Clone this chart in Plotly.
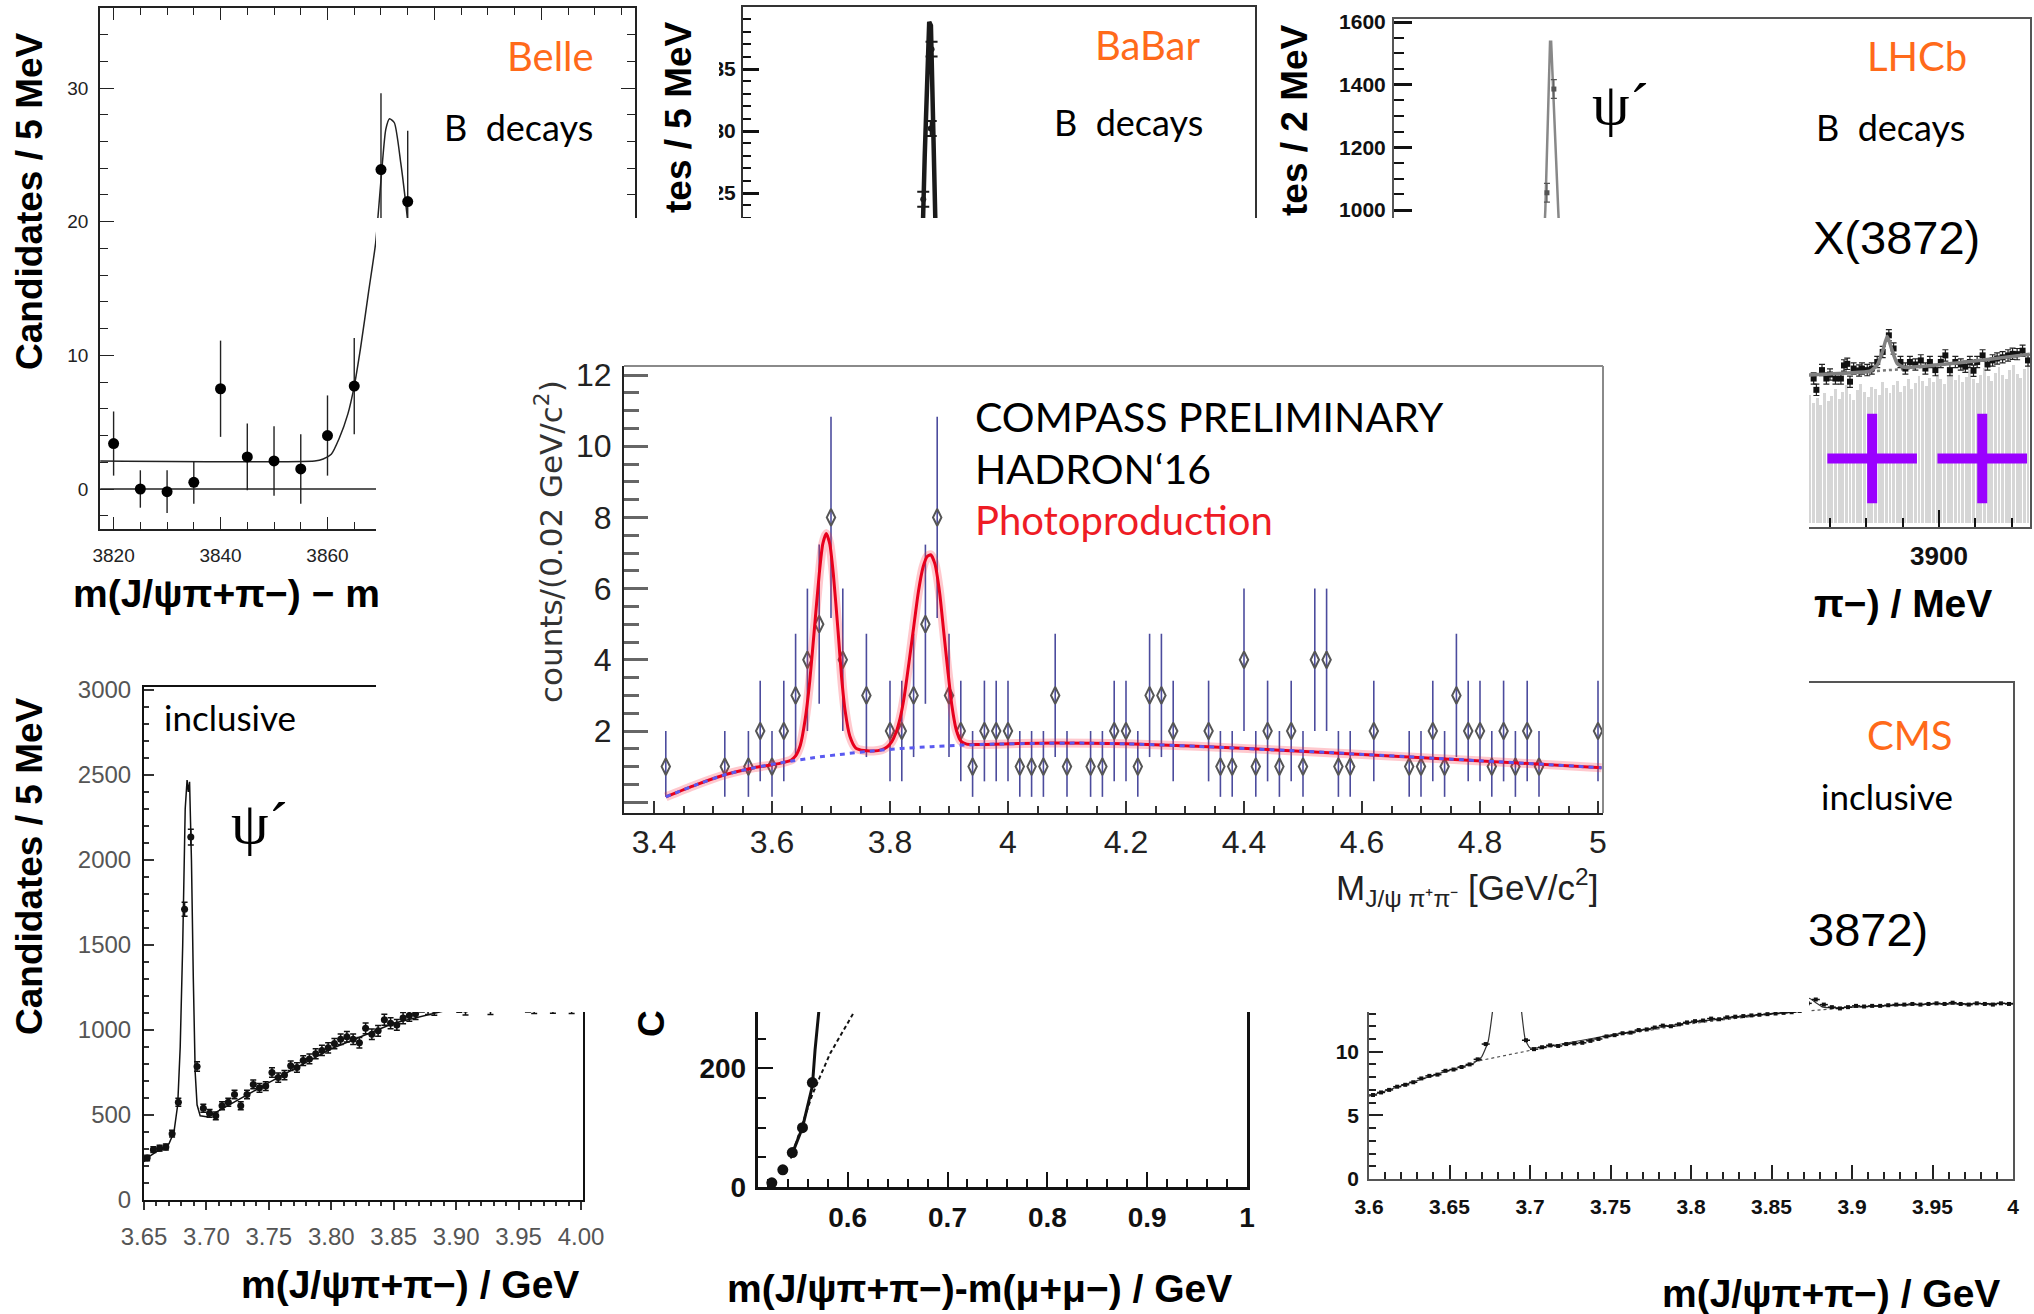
import numpy as np
import plotly.graph_objects as go

W, H = 2034, 1314

# ===================== DATA =====================
# --- COMPASS (centre) ---
compass_mass = [3.42, 3.52, 3.56, 3.58, 3.60, 3.62, 3.64, 3.66, 3.68, 3.70,
                3.72, 3.76, 3.80, 3.82, 3.84, 3.86, 3.88, 3.90, 3.92, 3.94,
                3.96, 3.98, 4.00, 4.02, 4.04, 4.06, 4.08, 4.10, 4.14, 4.16,
                4.18, 4.20, 4.22, 4.24, 4.26, 4.28, 4.34, 4.36, 4.38, 4.40,
                4.42, 4.44, 4.46, 4.48, 4.50, 4.52, 4.54, 4.56, 4.58, 4.62,
                4.68, 4.70, 4.72, 4.74, 4.76, 4.78, 4.80, 4.82, 4.84, 4.86,
                4.88, 4.90, 5.00]
compass_counts = [1, 1, 1, 2, 1, 2, 3, 4, 5, 8,
                  4, 3, 2, 2, 3, 5, 8, 3, 2, 1,
                  2, 2, 2, 1, 1, 1, 3, 1, 1, 1,
                  2, 2, 1, 3, 3, 2, 2, 1, 1, 4,
                  1, 2, 1, 2, 1, 4, 4, 1, 1, 2,
                  1, 1, 2, 1, 3, 2, 2, 1, 2, 1,
                  2, 1, 2]
compass_fit_mass = [3.42, 3.47, 3.52, 3.57, 3.60, 3.62, 3.632, 3.640, 3.648, 3.656,
                    3.664, 3.672, 3.680, 3.686, 3.692, 3.698, 3.704, 3.712, 3.718, 3.724,
                    3.732, 3.742, 3.756, 3.772, 3.785, 3.795, 3.803, 3.810, 3.817, 3.824,
                    3.832, 3.840, 3.848, 3.856, 3.863, 3.869, 3.876, 3.884, 3.891, 3.898,
                    3.905, 3.912, 3.920, 3.930, 3.945, 3.963, 4.02, 4.08, 4.20, 4.32,
                    4.487, 4.726, 5.006]
compass_fit_counts = [0.15, 0.48, 0.77, 0.97, 1.05, 1.12, 1.18, 1.30, 1.60, 2.30,
                      3.40, 4.90, 6.40, 7.25, 7.55, 7.25, 6.40, 4.80, 3.50, 2.56,
                      1.85, 1.52, 1.45, 1.44, 1.47, 1.55, 1.70, 1.95, 2.35, 2.95,
                      3.90, 4.90, 5.90, 6.60, 6.90, 6.95, 6.70, 5.90, 4.80, 3.70,
                      2.70, 2.05, 1.72, 1.63, 1.62, 1.62, 1.65, 1.66, 1.64, 1.57,
                      1.44, 1.23, 0.97]
compass_bkg_mass = [3.42, 3.47, 3.52, 3.57, 3.62, 3.67, 3.72, 3.77, 3.82, 3.87,
                    3.92, 3.97, 4.05, 4.12, 4.20, 4.32, 4.49, 4.73, 5.006]
compass_bkg_counts = [0.15, 0.48, 0.77, 0.97, 1.12, 1.25, 1.35, 1.44, 1.51, 1.56,
                      1.60, 1.63, 1.65, 1.66, 1.64, 1.57, 1.44, 1.23, 0.97]

# --- Belle (top left) ---
belle_mass = [3820, 3825, 3830, 3835, 3840, 3845, 3850, 3855, 3860, 3865, 3870, 3875]
belle_cand = [3.4, 0.0, -0.2, 0.5, 7.5, 2.4, 2.1, 1.5, 4.0, 7.7, 23.9, 21.5]
belle_err = [2.4, 1.4, 1.6, 1.6, 3.6, 2.5, 2.6, 2.6, 3.0, 3.6, 5.7, 5.3]
belle_fit_mass = [3817.5, 3857.6, 3859.2, 3860.7, 3862.2, 3863.8, 3865.0, 3866.2, 3867.7,
                  3869.0, 3870.0, 3870.9, 3871.6, 3872.5, 3873.7, 3874.9, 3876.5]
belle_fit_cand = [2.1, 2.1, 2.25, 2.6, 3.8, 5.6, 7.7, 10.6, 14.8,
                  18.4, 23.1, 26.9, 27.7, 27.4, 24.4, 20.4, 14.0]
belle_zero_mass = [3817.5, 3917.5]
belle_zero_cand = [0, 0]

# --- BaBar (top middle) ---
babar_fit_mass = [3.678, 3.6825, 3.6845, 3.6858, 3.6866, 3.6874, 3.6885, 3.6905, 3.695]
babar_fit_cand = [0, 15, 28, 36, 38.8, 38.5, 31, 15, 0]
babar_mass = [3.6838, 3.6873, 3.6877]
babar_cand = [24.5, 30.2, 36.6]

# --- LHCb (top right) ---
lhcb_psi_fit_mass = [3682.5, 3683.3, 3685.0, 3685.9, 3686.5, 3688.0, 3690.4, 3691.2]
lhcb_psi_fit_cand = [900, 1000, 1350, 1537, 1537, 1350, 1000, 900]
lhcb_psi_mass = [3684.2, 3688.0]
lhcb_psi_cand = [1055, 1386]
lhcb_x_mass = [3831, 3832.5, 3835.6, 3838, 3840, 3843, 3846, 3847.7, 3849.5, 3851,
               3853, 3856, 3857.6, 3860.5, 3863, 3866, 3869, 3872.4, 3875, 3878.8,
               3881.5, 3884, 3887, 3890, 3892.5, 3895, 3898, 3901, 3903.5, 3906,
               3909, 3912, 3914.5, 3917, 3919, 3921, 3924, 3926.7, 3929.5, 3932,
               3935, 3938, 3940.5, 3943, 3946, 3949]
lhcb_x_cand = [462, 426, 489, 462, 475, 462, 462, 504, 509, 452,
               494, 488, 494, 489, 494, 515, 547, 600, 558, 515,
               494, 515, 507, 520, 494, 515, 489, 515, 536, 489,
               515, 507, 500, 515, 487, 515, 536, 507, 520, 526,
               530, 536, 541, 540, 551, 520]
lhcb_x_fit_mass = [3823, 3850, 3862, 3866, 3869, 3871.5, 3874, 3877, 3881, 3900, 3930, 3950]
lhcb_x_fit_cand = [472, 480, 486, 505, 550, 597, 555, 510, 498, 506, 525, 540]
lhcb_x_bkg_mass = [3823, 3862, 3880, 3900, 3930, 3950]
lhcb_x_bkg_cand = [470, 485, 492, 505, 524, 538]
lhcb_bg_mass = [3823, 3825, 3827, 3829, 3831, 3833, 3835, 3837, 3839, 3841,
                3843, 3845, 3847, 3849, 3851, 3853, 3855, 3857, 3859, 3861,
                3863, 3865, 3867, 3869, 3871, 3873, 3875, 3877, 3879, 3881,
                3883, 3885, 3887, 3889, 3891, 3893, 3895, 3897, 3899, 3901,
                3903, 3905, 3907, 3909, 3911, 3913, 3915, 3917, 3919, 3921,
                3923, 3925, 3927, 3929, 3931, 3933, 3935, 3937, 3939, 3941,
                3943, 3945, 3947, 3949]
lhcb_bg_cand = [380, 395, 372, 410, 385, 400, 378, 415, 392, 405,
                430, 398, 420, 440, 412, 395, 425, 445, 418, 402,
                436, 428, 410, 450, 432, 415, 440, 455, 420, 438,
                462, 430, 448, 470, 455, 438, 465, 452, 478, 460,
                445, 470, 485, 458, 472, 450, 468, 490, 462, 448,
                475, 495, 470, 455, 480, 500, 472, 460, 488, 505,
                478, 465, 492, 520]
lhcb_cross_mass = [3863.2, 3923.8]
lhcb_cross_cand = [207, 207]

# --- inclusive psi' (bottom left) ---
incl_mass = [3.6525, 3.6575, 3.6625, 3.6675, 3.6725, 3.6775, 3.6825, 3.6875, 3.6925, 3.6975,
             3.7025, 3.7075, 3.7125, 3.7175, 3.7225, 3.7275, 3.7325, 3.7375, 3.7425, 3.7475,
             3.7525, 3.7575, 3.7625, 3.7675, 3.7725, 3.7775, 3.7825, 3.7875, 3.7925, 3.7975,
             3.8025, 3.8075, 3.8125, 3.8175, 3.8225, 3.8275, 3.8325, 3.8375, 3.8425, 3.8475,
             3.8525, 3.8575, 3.8625, 3.8675, 3.8725, 3.8775, 3.8825, 3.8875, 3.8925, 3.8975,
             3.9025, 3.9075, 3.9125, 3.9175, 3.9225, 3.9275, 3.9325, 3.9375, 3.9425, 3.9475,
             3.9525, 3.9575, 3.9625, 3.9675, 3.9725, 3.9775, 3.9825, 3.9875, 3.9925, 3.9975]
incl_cand = [247, 296, 305, 312, 390, 575, 1710, 2135, 785, 540,
             510, 495, 555, 575, 620, 555, 620, 680, 660, 670,
             750, 720, 735, 790, 780, 820, 830, 860, 880, 895,
             920, 945, 960, 945, 925, 1010, 975, 995, 1060, 1040,
             1030, 1070, 1085, 1095, 1140, 1125, 1120, 1150, 1145, 1160,
             1138, 1122, 1155, 1170, 1160, 1125, 1180, 1170, 1190, 1175,
             1185, 1140, 1130, 1195, 1180, 1132, 1200, 1190, 1130, 1205]
incl_fit_mass = [3.650, 3.655, 3.660, 3.665, 3.670, 3.674, 3.677, 3.679, 3.681, 3.683,
                 3.6845, 3.6855, 3.6865, 3.688, 3.6895, 3.691, 3.6925, 3.695, 3.700, 3.705,
                 3.750, 3.800, 3.850, 3.900, 4.000]
incl_fit_cand = [225, 260, 285, 300, 330, 400, 560, 900, 1500, 2300,
                 2470, 2400, 2460, 2000, 1300, 750, 560, 495, 490, 505,
                 690, 890, 1040, 1130, 1250]

# --- m(J/psi pi pi) - m(mu mu) (bottom centre) ---
dm_mass = [0.524, 0.535, 0.5445, 0.5547, 0.5646]
dm_cand = [7, 29, 58, 100, 176]
dm_fit_mass = [0.5435, 0.5547, 0.5646, 0.5673, 0.5709, 0.5740]
dm_fit_cand = [52, 100, 170, 231, 293, 360]
dm_bkg_mass = [0.543, 0.5646, 0.5824, 0.6047, 0.615]
dm_bkg_cand = [48, 156, 225, 290, 330]

# --- CMS (bottom right) ---
cms_mass = [3.6025, 3.6075, 3.6125, 3.6175, 3.6225, 3.6275, 3.6325, 3.6375, 3.6425, 3.6475,
            3.6525, 3.6575, 3.6625, 3.6675, 3.6725, 3.6975, 3.7025, 3.7075, 3.7125, 3.7175,
            3.7225, 3.7275, 3.7325, 3.7375, 3.7425, 3.7475, 3.7525, 3.7575, 3.7625, 3.7675,
            3.7725, 3.7775, 3.7825, 3.7875, 3.7925, 3.7975, 3.8025, 3.8075, 3.8125, 3.8175,
            3.8225, 3.8275, 3.8325, 3.8375, 3.8425, 3.8475, 3.8525, 3.8575, 3.8625, 3.8675,
            3.8725, 3.8775, 3.8825, 3.8875, 3.8925, 3.8975, 3.9025, 3.9075, 3.9125, 3.9175,
            3.9225, 3.9275, 3.9325, 3.9375, 3.9425, 3.9475, 3.9525, 3.9575, 3.9625, 3.9675,
            3.9725, 3.9775, 3.9825, 3.9875, 3.9925, 3.9975]
cms_cand = [6.6, 6.8, 7.0, 7.25, 7.4, 7.6, 7.9, 8.1, 8.2, 8.5,
            8.6, 8.8, 9.0, 9.4, 10.6, 10.9, 10.2, 10.35, 10.5, 10.45,
            10.6, 10.65, 10.7, 10.85, 11.0, 11.2, 11.3, 11.45, 11.5, 11.7,
            11.75, 11.9, 12.05, 12.0, 12.15, 12.3, 12.4, 12.45, 12.6, 12.55,
            12.7, 12.75, 12.8, 12.85, 12.9, 12.95, 13.0, 13.05, 13.1, 13.2,
            13.8, 14.1, 13.7, 13.5, 13.4, 13.5, 13.6, 13.55, 13.6, 13.6,
            13.65, 13.7, 13.7, 13.75, 13.7, 13.75, 13.8, 13.75, 13.85, 13.75,
            13.7, 13.8, 13.75, 13.7, 13.8, 13.75]
cms_fit_mass = [3.600, 3.650, 3.665, 3.670, 3.674, 3.677, 3.680, 3.686, 3.692, 3.6945,
                3.697, 3.700, 3.750, 3.800, 3.850, 3.866, 3.870, 3.8735, 3.877, 3.882,
                3.890, 3.950, 4.000]
cms_fit_cand = [6.5, 8.55, 9.1, 9.6, 10.8, 13.5, 20, 38, 20, 13.5,
                11.0, 10.3, 11.3, 12.3, 13.0, 13.15, 13.6, 14.2, 13.9, 13.5,
                13.45, 13.75, 13.8]
cms_bkg_mass = [3.665, 3.700, 3.750, 3.800, 3.850, 3.880, 3.900]
cms_bkg_cand = [9.2, 10.1, 11.2, 12.2, 12.95, 13.3, 13.5]

# ===================== HELPERS =====================
def dom_x(a, b):
    return [a / W, b / W]


def dom_y(top, bottom):
    return [1 - bottom / H, 1 - top / H]


def lin(p, pa, va, pb, vb):
    return va + (p - pa) * (vb - va) / (pb - pa)


def rng(p_lo, p_hi, pa, va, pb, vb):
    return [lin(p_lo, pa, va, pb, vb), lin(p_hi, pa, va, pb, vb)]


def axis(domain, r, anchor, **kw):
    d = dict(domain=domain, range=r, anchor=anchor, showgrid=False, zeroline=False,
             fixedrange=True, automargin=False)
    d.update(kw)
    return d


def txt(text, x, y, size, color="black", family="Lato", angle=0, xanchor="center",
        weight="normal", bgcolor=None):
    d = dict(text=text, x=x / W, y=1 - y / H, xref="paper", yref="paper", showarrow=False,
             textangle=angle, xanchor=xanchor, yanchor="middle",
             font=dict(size=size, color=color, family=family, weight=weight))
    if bgcolor:
        d["bgcolor"] = bgcolor
    return d


ORANGE = "#ff6a1a"
SANS = "Liberation Sans, Arial, sans-serif"

fig = go.Figure()
layout = {}

# ---------- Panel 1 : Belle ----------
A_x = [100, 635]
A_y = [8, 529]
layout["xaxis"] = axis(dom_x(*A_x), rng(A_x[0], A_x[1], 113.6, 3820, 327.5, 3860), "y",
                       showline=True, linecolor="#222", linewidth=1.5, mirror="allticks",
                       ticks="inside", ticklen=12, tickwidth=1.2, tickcolor="#222",
                       tick0=3820, dtick=20,
                       minor=dict(dtick=5, ticklen=7, ticks="inside", tickcolor="#222"),
                       tickfont=dict(family=SANS, size=19, color="#222"),
                       ticklabelstandoff=8)
layout["yaxis"] = axis(dom_y(*A_y), rng(A_y[1], A_y[0], 489, 0, 88, 30), "x",
                       showline=True, linecolor="#222", linewidth=1.5, mirror="allticks",
                       ticks="inside", ticklen=14, tickwidth=1.2, tickcolor="#222",
                       tick0=0, dtick=10,
                       minor=dict(dtick=2, ticklen=8, ticks="inside", tickcolor="#222"),
                       tickfont=dict(family=SANS, size=19, color="#222"),
                       ticklabelstandoff=6)
fig.add_trace(go.Scatter(x=belle_zero_mass, y=belle_zero_cand, mode="lines",
                         line=dict(color="#222", width=1.3), xaxis="x", yaxis="y"))
fig.add_trace(go.Scatter(x=belle_fit_mass, y=belle_fit_cand, mode="lines",
                         line=dict(color="#222", width=1.5, shape="spline", smoothing=0.6),
                         xaxis="x", yaxis="y"))
fig.add_trace(go.Scatter(x=belle_mass, y=belle_cand, mode="markers",
                         marker=dict(color="black", size=11),
                         error_y=dict(type="data", array=belle_err, color="#222",
                                      thickness=1.4, width=0),
                         xaxis="x", yaxis="y"))

# ---------- Panel 2 : BaBar ----------
B_x = [743, 1255]
B_y = [7, 600]
layout["xaxis2"] = axis(dom_x(*B_x), rng(B_x[0], B_x[1], 929, 3.6865, 1142.3, 3.7865), "y2",
                        showline=True, linecolor="#333", linewidth=2, mirror=True,
                        ticks="", showticklabels=False)
layout["yaxis2"] = axis(dom_y(*B_y), rng(B_y[1], B_y[0], 69, 35, 131, 30), "x2",
                        showline=True, linecolor="#333", linewidth=2, mirror=True,
                        ticks="inside", ticklen=16, tickwidth=2.5, tickcolor="#111",
                        tick0=0, dtick=5,
                        minor=dict(dtick=1, ticklen=8, ticks="inside", tickcolor="#111",
                                   tickwidth=2),
                        tickfont=dict(family=SANS, size=21, color="#111", weight="bold"),
                        ticklabelstandoff=1)
fig.add_trace(go.Scatter(x=babar_fit_mass, y=babar_fit_cand, mode="lines",
                         line=dict(color="#1a1a1a", width=4.5), xaxis="x2", yaxis="y2"))
fig.add_trace(go.Scatter(x=babar_mass, y=babar_cand, mode="markers",
                         marker=dict(color="#1a1a1a", size=6),
                         error_y=dict(type="constant", value=0.6, color="#1a1a1a",
                                      thickness=2, width=6),
                         xaxis="x2", yaxis="y2"))

# ---------- Panel 3 : LHCb ----------
C_x = [1394, 2030]
C_y = [19, 527]
layout["xaxis3"] = axis(dom_x(*C_x), rng(C_x[0], C_x[1], 1394, 3600, 1939, 3900), "y3",
                        showline=True, linecolor="#555", linewidth=2, mirror=True,
                        ticks="inside", ticklen=17, tickwidth=2, tickcolor="#111",
                        tick0=3600, dtick=100,
                        minor=dict(dtick=20, ticklen=9, ticks="inside", tickcolor="#111",
                                   tickwidth=2),
                        tickfont=dict(family=SANS, size=26, color="#111", weight="bold"),
                        ticklabelstandoff=5)
layout["yaxis3"] = axis(dom_y(*C_y), rng(C_y[1], C_y[0], 22, 1600, 210, 1000), "x3",
                        showline=True, linecolor="#555", linewidth=2, mirror=True,
                        ticks="inside", ticklen=18, tickwidth=2.5, tickcolor="#111",
                        tick0=0, dtick=200,
                        minor=dict(dtick=50, ticklen=10, ticks="inside", tickcolor="#111",
                                   tickwidth=2),
                        tickfont=dict(family=SANS, size=21, color="#111", weight="bold"),
                        ticklabelstandoff=2)
fig.add_trace(go.Bar(x=lhcb_bg_mass, y=lhcb_bg_cand,
                     marker=dict(color="#d6d6d6", line=dict(width=0)),
                     width=1.6, xaxis="x3", yaxis="y3"))
fig.add_trace(go.Scatter(x=lhcb_cross_mass, y=lhcb_cross_cand, mode="markers",
                         marker=dict(symbol="cross-thin", size=64,
                                     line=dict(color="#9a00ff", width=10)),
                         xaxis="x3", yaxis="y3"))
fig.add_trace(go.Scatter(x=lhcb_psi_fit_mass, y=lhcb_psi_fit_cand, mode="lines",
                         line=dict(color="#888", width=2.5), xaxis="x3", yaxis="y3"))
fig.add_trace(go.Scatter(x=lhcb_psi_mass, y=lhcb_psi_cand, mode="markers",
                         marker=dict(color="#555", size=5, symbol="square"),
                         error_y=dict(type="constant", value=30, color="#555",
                                      thickness=1.2, width=3),
                         xaxis="x3", yaxis="y3"))
fig.add_trace(go.Scatter(x=lhcb_x_bkg_mass, y=lhcb_x_bkg_cand, mode="lines",
                         line=dict(color="#777", width=2.5, dash="dot"), xaxis="x3", yaxis="y3"))
fig.add_trace(go.Scatter(x=lhcb_x_mass, y=lhcb_x_cand, mode="markers",
                         marker=dict(color="#111", size=6, symbol="square"),
                         error_y=dict(type="constant", value=18, color="#222",
                                      thickness=1.2, width=3),
                         xaxis="x3", yaxis="y3"))
fig.add_trace(go.Scatter(x=lhcb_x_fit_mass, y=lhcb_x_fit_cand, mode="lines",
                         line=dict(color="#808080", width=3.5, shape="spline", smoothing=0.5),
                         xaxis="x3", yaxis="y3"))

# ---------- Panel 4 : inclusive psi' (bottom left) ----------
D_x = [144, 583]
D_y = [687, 1200]
layout["xaxis4"] = axis(dom_x(*D_x), rng(D_x[0], D_x[1], 144, 3.65, 581, 4.0), "y4",
                        showline=True, linecolor="#111", linewidth=2, mirror=True,
                        ticks="outside", ticklen=8, tickwidth=1.5, tickcolor="#333",
                        tick0=3.65, dtick=0.05, tickformat=".2f",
                        minor=dict(dtick=0.01, ticklen=4, ticks="outside", tickcolor="#333"),
                        tickfont=dict(family=SANS, size=24, color="#555"),
                        ticklabelstandoff=6)
layout["yaxis4"] = axis(dom_y(*D_y), rng(D_y[1], D_y[0], 1200, 0, 690, 3000), "x4",
                        showline=True, linecolor="#111", linewidth=2, mirror=True,
                        ticks="inside", ticklen=10, tickwidth=1.5, tickcolor="#333",
                        tick0=0, dtick=500,
                        minor=dict(dtick=100, ticklen=5, ticks="inside", tickcolor="#333"),
                        tickfont=dict(family=SANS, size=24, color="#555"),
                        ticklabelstandoff=6)
fig.add_trace(go.Scatter(x=incl_fit_mass, y=incl_fit_cand, mode="lines",
                         line=dict(color="#111", width=1.5), xaxis="x4", yaxis="y4"))
fig.add_trace(go.Scatter(x=incl_mass, y=incl_cand, mode="markers",
                         marker=dict(color="#111", size=7),
                         error_y=dict(type="data", array=list(np.sqrt(incl_cand)), color="#111",
                                      thickness=1.5, width=3),
                         error_x=dict(type="constant", value=0.0025, color="#111",
                                      thickness=1.5, width=0),
                         xaxis="x4", yaxis="y4"))

# ---------- Panel 5 : delta m (bottom centre) ----------
E_x = [757.5, 1247]
E_y = [700, 1187]
layout["xaxis5"] = axis(dom_x(*E_x), rng(E_x[0], E_x[1], 847.7, 0.6, 1247, 1.0), "y5",
                        showline=True, linecolor="#111", linewidth=2.5, mirror=True,
                        ticks="inside", ticklen=15, tickwidth=2, tickcolor="#111",
                        tick0=0.6, dtick=0.1,
                        minor=dict(dtick=0.02, ticklen=8, ticks="inside", tickcolor="#111",
                                   tickwidth=2),
                        tickfont=dict(family=SANS, size=28, color="#111", weight="bold"),
                        ticklabelstandoff=4)
layout["yaxis5"] = axis(dom_y(*E_y), rng(E_y[1], E_y[0], 1187, 0, 1068.3, 200), "x5",
                        showline=True, linecolor="#111", linewidth=2.5, mirror=True,
                        ticks="inside", ticklen=16, tickwidth=2, tickcolor="#111",
                        tick0=0, dtick=200,
                        minor=dict(dtick=50, ticklen=9, ticks="inside", tickcolor="#111",
                                   tickwidth=2),
                        tickfont=dict(family=SANS, size=28, color="#111", weight="bold"),
                        ticklabelstandoff=3)
fig.add_trace(go.Scatter(x=dm_bkg_mass, y=dm_bkg_cand, mode="lines",
                         line=dict(color="#111", width=2, dash="4px,3px"), xaxis="x5", yaxis="y5"))
fig.add_trace(go.Scatter(x=dm_fit_mass, y=dm_fit_cand, mode="lines",
                         line=dict(color="#111", width=3), xaxis="x5", yaxis="y5"))
fig.add_trace(go.Scatter(x=dm_mass, y=dm_cand, mode="markers",
                         marker=dict(color="#111", size=11),
                         xaxis="x5", yaxis="y5"))

# ---------- Panel 6 : CMS (bottom right) ----------
F_x = [1369, 2013]
F_y = [683, 1179]
layout["xaxis6"] = axis(dom_x(*F_x), rng(F_x[0], F_x[1], 1369, 3.6, 2013, 4.0), "y6",
                        showline=True, linecolor="#555", linewidth=1.5, mirror=True,
                        ticks="inside", ticklen=14, tickwidth=1.5, tickcolor="#222",
                        tick0=3.6, dtick=0.05,
                        minor=dict(dtick=0.01, ticklen=7, ticks="inside", tickcolor="#222"),
                        tickfont=dict(family=SANS, size=21, color="#111", weight="bold"),
                        ticklabelstandoff=8)
layout["yaxis6"] = axis(dom_y(*F_y), rng(F_y[1], F_y[0], 1179, 0, 1051.7, 10), "x6",
                        showline=True, linecolor="#555", linewidth=1.5, mirror=True,
                        ticks="inside", ticklen=14, tickwidth=1.5, tickcolor="#222",
                        tick0=0, dtick=5,
                        minor=dict(dtick=1, ticklen=7, ticks="inside", tickcolor="#222"),
                        tickfont=dict(family=SANS, size=21, color="#111", weight="bold"),
                        ticklabelstandoff=4)
fig.add_trace(go.Scatter(x=cms_bkg_mass, y=cms_bkg_cand, mode="lines",
                         line=dict(color="#555", width=1.2, dash="dot"), xaxis="x6", yaxis="y6"))
fig.add_trace(go.Scatter(x=cms_fit_mass, y=cms_fit_cand, mode="lines",
                         line=dict(color="#333", width=1.2, shape="spline", smoothing=0.4),
                         xaxis="x6", yaxis="y6"))
fig.add_trace(go.Scatter(x=cms_mass, y=cms_cand, mode="markers",
                         marker=dict(color="#111", size=4, symbol="square"),
                         error_x=dict(type="constant", value=0.0025, color="#111",
                                      thickness=1.5, width=0),
                         xaxis="x6", yaxis="y6"))

# ---------- Panel 7 : white occluder for the centre ----------
O_x = [376, 1809]
O_y = [218, 1012]
layout["xaxis7"] = axis(dom_x(*O_x), [0, 1], "y7", visible=False)
layout["yaxis7"] = axis(dom_y(*O_y), [0, 1], "x7", visible=False)
fig.add_trace(go.Scatter(x=[0.5], y=[0.5], mode="markers", marker=dict(opacity=0),
                         xaxis="x7", yaxis="y7", hoverinfo="skip"))

# ---------- Panel 8 : COMPASS (centre) ----------
P_x = [624, 1603]
P_y = [366, 813]
CLIP = 0.15
err_hi = [np.sqrt(v) for v in compass_counts]
err_lo = [min(np.sqrt(v), v - CLIP) for v in compass_counts]
layout["xaxis8"] = axis(dom_x(*P_x), rng(P_x[0], P_x[1], 654, 3.4, 1008, 4.0), "y8",
                        showline=True, linecolor="#222", linewidth=2, mirror=False,
                        ticks="inside", ticklen=12, tickwidth=2, tickcolor="#333",
                        tick0=3.4, dtick=0.2,
                        minor=dict(dtick=0.05, ticklen=7, ticks="inside", tickcolor="#333",
                                   tickwidth=2),
                        tickfont=dict(family=SANS, size=32, color="#222"),
                        ticklabelstandoff=0)
layout["yaxis8"] = axis(dom_y(*P_y), rng(P_y[1], P_y[0], 731, 2, 375, 12), "x8",
                        showline=True, linecolor="#222", linewidth=2, mirror=False,
                        ticks="inside", ticklen=24, tickwidth=3, tickcolor="#666",
                        tickmode="array", tickvals=[0, 2, 4, 6, 8, 10, 12],
                        ticktext=["", "2", "4", "6", "8", "10", "12"],
                        minor=dict(tickmode="linear", tick0=0, dtick=0.5, ticklen=15,
                                   ticks="inside", tickcolor="#666", tickwidth=2.5),
                        tickfont=dict(family=SANS, size=32, color="#222"),
                        ticklabelstandoff=4)
fig.add_trace(go.Scatter(x=compass_mass, y=compass_counts, mode="markers",
                         marker=dict(symbol="diamond-tall-open", size=12, color="#555",
                                     line=dict(width=2, color="#555")),
                         error_y=dict(type="data", array=err_hi, arrayminus=err_lo,
                                      color="rgba(45,45,140,0.85)", thickness=1.6, width=0),
                         xaxis="x8", yaxis="y8"))
fig.add_trace(go.Scatter(x=compass_fit_mass, y=compass_fit_counts, mode="lines",
                         line=dict(color="rgba(255,40,60,0.25)", width=9, shape="spline",
                                   smoothing=0.6),
                         xaxis="x8", yaxis="y8"))
fig.add_trace(go.Scatter(x=compass_fit_mass, y=compass_fit_counts, mode="lines",
                         line=dict(color="#e8001c", width=3, shape="spline", smoothing=0.6),
                         xaxis="x8", yaxis="y8"))
fig.add_trace(go.Scatter(x=compass_bkg_mass, y=compass_bkg_counts, mode="lines",
                         line=dict(color="#5a5af0", width=3, dash="5px,5px", shape="spline",
                                   smoothing=0.6),
                         xaxis="x8", yaxis="y8"))

# ===================== SHAPES =====================
shapes = [
    # white patch under BaBar rotated title (covers part of tick labels)
    dict(type="rect", xref="paper", yref="paper", x0=652 / W, x1=719 / W,
         y0=1 - 216 / H, y1=1 - 6 / H, fillcolor="white", line=dict(width=0), layer="above"),
    # COMPASS frame top & right (grey)
    dict(type="line", xref="x8 domain", yref="y8 domain", x0=0, x1=1, y0=1, y1=1,
         line=dict(color="#8a8a8a", width=2), layer="above"),
    dict(type="line", xref="x8 domain", yref="y8 domain", x0=1, x1=1, y0=0, y1=1,
         line=dict(color="#8a8a8a", width=2), layer="above"),
]

# ===================== TEXT =====================
BOLD = "bold"
ann = [
    # Belle
    txt("Belle", 550, 56, 40, ORANGE),
    txt("B  decays", 518, 127, 36),
    txt("Candidates / 5 MeV", 29, 201, 37, family=SANS, angle=-90, weight=BOLD),
    txt("m(J/ψπ+π−) − m", 71, 593, 39, family=SANS, xanchor="left", weight=BOLD),
    # BaBar
    txt("tes / 5 MeV", 678, 117, 37, family=SANS, angle=-90, weight=BOLD),
    txt("BaBar", 1147, 45, 40, ORANGE),
    txt("B  decays", 1128, 122, 36),
    # LHCb
    txt("tes / 2 MeV", 1294, 120, 37, family=SANS, angle=-90, weight=BOLD),
    txt("LHCb", 1917, 56, 40, ORANGE),
    txt("B  decays", 1890, 127, 36),
    txt("ψ´", 1621, 104, 60, family="Liberation Serif, DejaVu Serif, serif"),
    txt("X(3872)", 1896, 237, 47, family=SANS),
    txt("π−) / MeV", 1812, 603, 39, family=SANS, xanchor="left", weight=BOLD),
    # bottom left
    txt("inclusive", 230, 717, 35),
    txt("ψ´", 260, 823, 60, family="Liberation Serif, DejaVu Serif, serif"),
    txt("Candidates / 5 MeV", 29, 866, 37, family=SANS, angle=-90, weight=BOLD),
    txt("m(J/ψπ+π−) / GeV", 410, 1284, 39, family=SANS, weight=BOLD),
    # bottom centre
    txt("C", 651, 1024, 37, family=SANS, angle=-90, weight=BOLD),
    txt("m(J/ψπ+π−)-m(μ+μ−) / GeV", 979, 1288, 39, family=SANS, weight=BOLD),
    # CMS
    txt("CMS", 1910, 735, 40, ORANGE),
    txt("inclusive", 1887, 796, 35),
    txt("3872)", 1806, 929, 47, family=SANS, xanchor="left"),
    txt("m(J/ψπ+π−) / GeV", 1831, 1293, 39, family=SANS, weight=BOLD),
    # COMPASS
    txt("counts/(0.02 GeV/c<sup>2</sup>)", 549, 542, 31, color="#333",
        family="DejaVu Sans, sans-serif", angle=-90),
    txt("M<sub>J/ψ π⁺π⁻</sub> [GeV/c<sup>2</sup>]", 1600, 887, 35, color="#222",
        family=SANS, xanchor="right"),
    txt("COMPASS PRELIMINARY", 973, 416, 41, xanchor="left"),
    txt("HADRON‘16", 973, 468, 41, xanchor="left"),
    txt("Photoproduction", 973, 520, 40, color="#ee1c25", xanchor="left"),
]

fig.update_layout(
    width=W, height=H,
    margin=dict(l=0, r=0, t=0, b=0),
    paper_bgcolor="white", plot_bgcolor="white",
    showlegend=False, hovermode=False, bargap=0,
    shapes=shapes, annotations=ann,
    **layout,
)

fig.write_html("out.html")
